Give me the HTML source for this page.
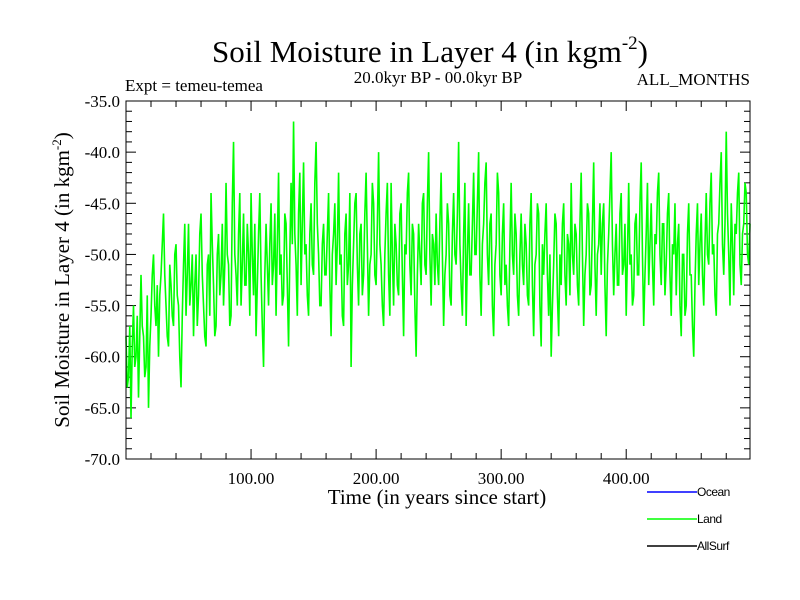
<!DOCTYPE html>
<html><head><meta charset="utf-8"><style>
body{margin:0;background:#fff}
svg{display:block}
text{font-family:"Liberation Serif",serif;fill:#000}
.lg{font-family:"Liberation Sans",sans-serif;font-size:12px;letter-spacing:-0.5px}
</style></head><body>
<svg id="chart" width="800" height="600">
<text x="430" y="62" font-size="31" text-anchor="middle">Soil Moisture in Layer 4 (in kgm<tspan font-size="19" dy="-13">-2</tspan><tspan dy="13">)</tspan></text>
<text x="125" y="91" font-size="17">Expt = temeu-temea</text>
<text x="438" y="83" font-size="17" text-anchor="middle">20.0kyr BP - 00.0kyr BP</text>
<text x="750" y="85" font-size="17" text-anchor="end">ALL_MONTHS</text>
<text transform="translate(69,280) rotate(-90)" font-size="21" text-anchor="middle">Soil Moisture in Layer 4 (in kgm<tspan font-size="13" dy="-8">-2</tspan><tspan dy="8">)</tspan></text>
<text x="437" y="504" font-size="21" text-anchor="middle">Time (in years since start)</text>
<g id="axes"></g>
<polyline id="land-line" fill="none" stroke="#00ff00" stroke-width="1.6"/>
<rect x="126" y="101" width="624" height="358" fill="none" stroke="#000" stroke-width="1"/>
<g>
<line x1="647" y1="492" x2="697" y2="492" stroke="#0000ff" stroke-width="1.5"/>
<text class="lg" x="697" y="496">Ocean</text>
<line x1="647" y1="519" x2="697" y2="519" stroke="#00ff00" stroke-width="1.5"/>
<text class="lg" x="697" y="523">Land</text>
<line x1="647" y1="546" x2="697" y2="546" stroke="#000" stroke-width="1.5"/>
<text class="lg" x="697" y="550">AllSurf</text>
</g>
</svg>
<script>
const yTickValues=[-35,-40,-45,-50,-55,-60,-65,-70];
const yTickLabels=["-35.0","-40.0","-45.0","-50.0","-55.0","-60.0","-65.0","-70.0"];
const xTickValues=[100,200,300,400];
const xTickLabels=["100.00","200.00","300.00","400.00"];
const yearStep=1;
const landValues=[
-58,-63,-62,-57,-66,-59,-55,-61,-60,-56,-64,-58,-52,-57,-58,-62,-61,-54,-65,-59,
-56,-52,-50,-55,-57,-53,-60,-54,-52,-49,-46,-52,-55,-58,-59,-51,-53,-56,-57,-50,
-49,-54,-55,-60,-63,-56,-51,-47,-56,-52,-47,-55,-53,-50,-58,-53,-50,-57,-54,-48,
-46,-52,-55,-58,-59,-51,-50,-56,-44,-49,-53,-58,-57,-50,-48,-54,-52,-47,-55,-51,
-43,-50,-51,-57,-56,-45,-39,-50,-52,-55,-48,-44,-55,-51,-46,-53,-53,-47,-50,-56,
-44,-50,-54,-47,-58,-53,-48,-44,-52,-57,-61,-52,-47,-51,-55,-49,-45,-53,-51,-46,
-56,-49,-42,-52,-50,-55,-54,-46,-47,-53,-59,-50,-43,-49,-37,-48,-51,-56,-46,-42,
-53,-47,-41,-50,-49,-54,-56,-48,-45,-51,-52,-43,-39,-47,-50,-55,-55,-49,-47,-52,
-52,-48,-44,-53,-58,-50,-48,-45,-53,-49,-42,-51,-50,-56,-57,-48,-46,-53,-51,-44,
-61,-53,-49,-45,-44,-51,-55,-48,-47,-54,-52,-46,-42,-49,-56,-51,-50,-43,-45,-52,
-53,-47,-40,-49,-51,-55,-57,-50,-46,-43,-52,-56,-43,-50,-55,-47,-49,-53,-54,-46,
-45,-52,-58,-49,-50,-44,-42,-51,-54,-47,-48,-55,-60,-52,-47,-50,-53,-45,-44,-51,
-52,-45,-40,-50,-55,-48,-49,-53,-46,-51,-53,-47,-42,-50,-57,-52,-50,-45,-47,-54,
-55,-48,-44,-50,-51,-46,-39,-49,-53,-56,-48,-43,-57,-50,-45,-52,-52,-47,-42,-50,
-50,-45,-40,-52,-56,-49,-47,-43,-41,-50,-53,-47,-46,-55,-58,-51,-49,-42,-44,-52,
-54,-48,-45,-53,-51,-55,-57,-49,-43,-50,-52,-46,-48,-54,-56,-50,-46,-51,-53,-47,
-49,-54,-55,-47,-44,-53,-58,-51,-50,-45,-46,-55,-59,-49,-52,-48,-45,-52,-56,-50,
-60,-55,-51,-46,-47,-54,-58,-50,-53,-47,-45,-52,-55,-48,-49,-54,-43,-50,-52,-47,
-48,-53,-55,-47,-42,-50,-57,-52,-50,-45,-46,-54,-53,-47,-41,-51,-56,-50,-49,-45,
-52,-47,-45,-53,-58,-51,-48,-44,-40,-49,-54,-50,-47,-53,-53,-46,-44,-52,-51,-47,
-56,-50,-43,-51,-50,-55,-54,-47,-46,-52,-52,-45,-41,-50,-57,-52,-48,-43,-53,-49,
-45,-51,-55,-48,-49,-44,-42,-50,-53,-47,-47,-54,-51,-46,-44,-52,-56,-49,-50,-45,
-54,-49,-47,-55,-58,-50,-50,-56,-55,-48,-45,-52,-52,-57,-60,-53,-48,-45,-53,-49,
-46,-52,-55,-49,-44,-50,-51,-45,-42,-50,-49,-54,-56,-48,-47,-43,-40,-49,-52,-47,
-38,-46,-50,-55,-45,-49,-54,-47,-48,-44,-42,-51,-53,-48,-47,-43,-44,-50,-51,-47];
const L=126,R=750,T=101,B=459,X0=0,X1=499,Y0=-70,Y1=-35;
const xs=v=>L+(v-X0)/(X1-X0)*(R-L);
const ys=v=>B-(v-Y0)/(Y1-Y0)*(B-T);
const ns="http://www.w3.org/2000/svg";
const axes=document.getElementById('axes');
function mk(tag,attrs){const e=document.createElementNS(ns,tag);for(const k in attrs)e.setAttribute(k,attrs[k]);axes.appendChild(e);return e;}
for(let v=-70;v<=-35;v+=1){
  const major=(v%5===0);const y=ys(v);const len=major?10:6;
  const a=mk('line',{x1:L,y1:y,x2:L+len,y2:y,stroke:'#000'});
  
  
  const b=mk('line',{x1:R,y1:y,x2:R-len,y2:y,stroke:'#000'});
  
  
}
yTickValues.forEach((v,i)=>{
  const t=mk('text',{x:L-6,y:ys(v)+6,'font-size':17,'text-anchor':'end'});
  t.textContent=yTickLabels[i];
  
  
});
for(let v=20;v<X1;v+=20){
  const major=(v%100===0);const x=xs(v);const len=major?10:6;
  const a=mk('line',{x1:x,y1:B,x2:x,y2:B-len,stroke:'#000'});
  
  
  const b=mk('line',{x1:x,y1:T,x2:x,y2:T+len,stroke:'#000'});
  
  
}
xTickValues.forEach((v,i)=>{
  const t=mk('text',{x:xs(v),y:B+25,'font-size':17,'text-anchor':'middle'});
  t.textContent=xTickLabels[i];
  
  
});
document.getElementById('land-line').setAttribute('points',
  landValues.map((v,i)=>xs(i*yearStep)+','+ys(v)).join(' '));
</script>
</body></html>
